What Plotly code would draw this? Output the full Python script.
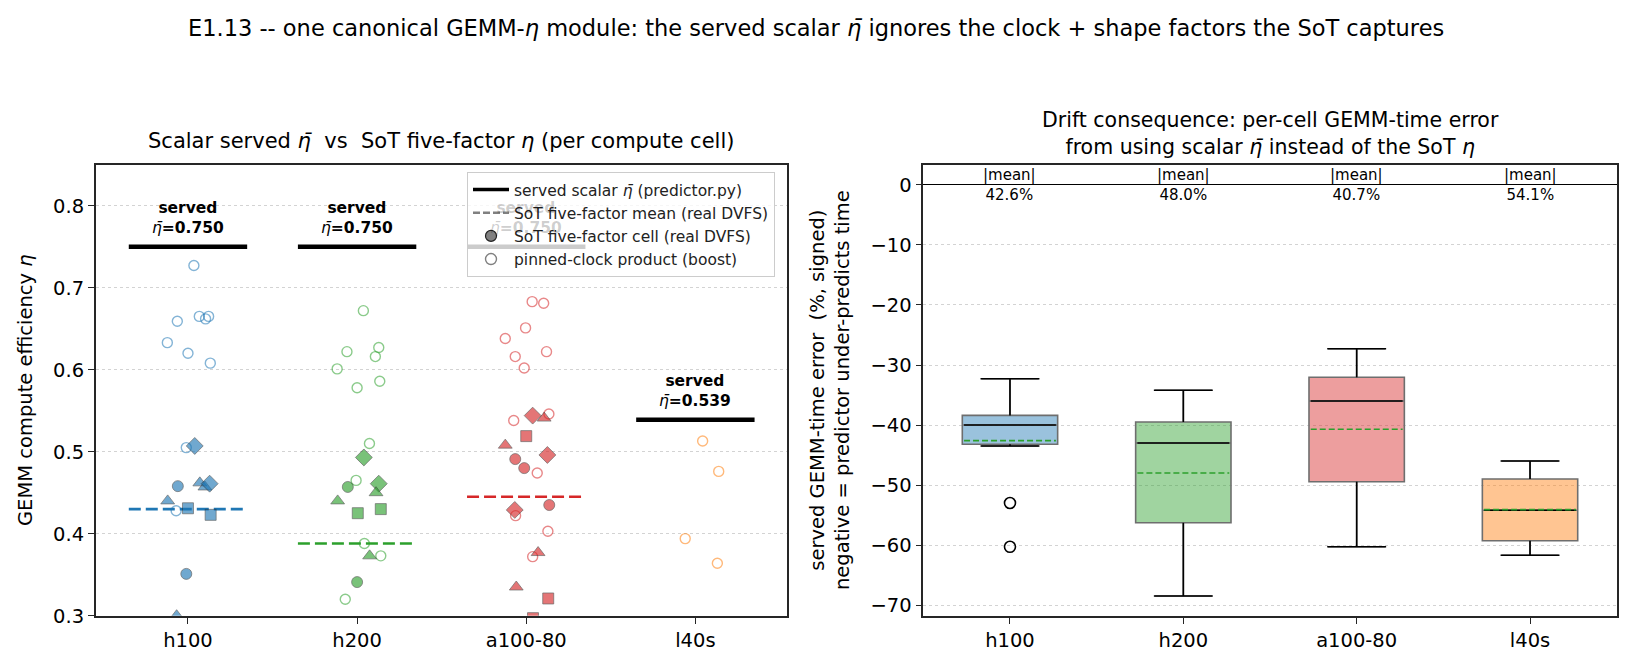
import plotly.graph_objects as go

FONT = "DejaVu Sans"
NB = "\u00a0"

# ---------------- data ----------------
gpus = ["h100", "h200", "a100-80", "l40s"]
served_eta = [0.750, 0.750, 0.750, 0.539]
sot_mean_eta = [0.430, 0.388, 0.445, None]

# pinned-clock product (boost) points: jitter offset, eta
boost_dx = {
    "h100": [0.035, -0.063, 0.067, 0.104, 0.122, -0.122, 0.0, 0.132, -0.01, -0.07],
    "h200": [0.037, -0.06, 0.128, 0.108, -0.118, 0.134, 0.0, 0.073, -0.006, 0.043, 0.14, -0.07],
    "a100-80": [0.035, 0.103, -0.004, -0.124, 0.12, -0.065, -0.012, -0.074, 0.134, 0.065, -0.063, 0.128, 0.038],
    "l40s": [0.043, 0.138, -0.06, 0.13],
}
boost_eta = {
    "h100": [0.727, 0.659, 0.665, 0.662, 0.665, 0.633, 0.620, 0.608, 0.505, 0.428],
    "h200": [0.672, 0.622, 0.627, 0.616, 0.601, 0.586, 0.578, 0.510, 0.465, 0.388, 0.373, 0.320],
    "a100-80": [0.683, 0.681, 0.651, 0.638, 0.622, 0.616, 0.602, 0.538, 0.546, 0.474, 0.422, 0.403, 0.372],
    "l40s": [0.513, 0.476, 0.394, 0.364],
}
# SoT five-factor cells (real DVFS): jitter offset, eta, shape class
cell_dx = {
    "h100": [0.04, -0.06, 0.07, 0.10, 0.128, -0.12, 0.0, 0.134, -0.01, -0.067],
    "h200": [0.04, -0.055, 0.128, 0.112, -0.115, 0.004, 0.14, 0.074, 0.0],
    "a100-80": [0.038, 0.106, 0.0, -0.124, 0.125, -0.065, -0.012, -0.068, 0.136, 0.07, -0.059, 0.13, 0.04],
    "l40s": [],
}
cell_eta = {
    "h100": [0.507, 0.458, 0.462, 0.457, 0.461, 0.440, 0.431, 0.423, 0.351, 0.300],
    "h200": [0.493, 0.457, 0.461, 0.450, 0.440, 0.425, 0.430, 0.373, 0.341],
    "a100-80": [0.544, 0.541, 0.519, 0.508, 0.496, 0.491, 0.480, 0.429, 0.435, 0.377, 0.335, 0.321, 0.297],
    "l40s": [],
}
cell_shape = {
    "h100": ["diamond", "circle", "triangle-up", "triangle-up", "diamond", "triangle-up", "square", "square", "circle", "triangle-up"],
    "h200": ["diamond", "circle", "diamond", "triangle-up", "triangle-up", "square", "square", "triangle-up", "circle"],
    "a100-80": ["diamond", "triangle-up", "square", "triangle-up", "diamond", "circle", "circle", "diamond", "circle", "triangle-up", "triangle-up", "square", "square"],
    "l40s": [],
}

# right panel: signed GEMM-time error (%) box statistics
err_q1 = [-43.2, -56.3, -49.45, -59.3]
err_median = [-40.0, -43.0, -36.0, -54.2]
err_q3 = [-38.4, -39.5, -32.05, -49.0]
err_lowf = [-43.5, -68.5, -60.3, -61.7]
err_upf = [-32.3, -34.2, -27.3, -46.0]
err_mean = [-42.6, -48.0, -40.7, -54.1]
abs_mean_label = ["42.6%", "48.0%", "40.7%", "54.1%"]
outlier_gpu_idx = [0, 0]
outlier_val = [-53.0, -60.3]

# ---------------- style ----------------
base = {"h100": (31, 119, 180), "h200": (44, 160, 44), "a100-80": (214, 39, 40), "l40s": (255, 127, 14)}
def rgba(c, a):
    return f"rgba({c[0]},{c[1]},{c[2]},{a})"

sym_size = {"circle": 11, "square": 11, "triangle-up": 12, "diamond": 13}

fig = go.Figure()

HALF = 0.35
# ---------------- left panel ----------------
for i, g in enumerate(gpus):
    c = base[g]
    fig.add_trace(go.Scatter(x=[i - HALF, i + HALF], y=[served_eta[i]] * 2, mode="lines",
                             line=dict(color="black", width=4.5), showlegend=False,
                             xaxis="x", yaxis="y", hoverinfo="skip"))
    if sot_mean_eta[i] is not None:
        fig.add_trace(go.Scatter(x=[i - HALF, i + HALF], y=[sot_mean_eta[i]] * 2, mode="lines",
                                 line=dict(color=rgba(c, 1), width=2.6, dash="12px,5px"), showlegend=False,
                                 xaxis="x", yaxis="y"))
    fig.add_trace(go.Scatter(x=[i + d for d in boost_dx[g]], y=boost_eta[g], mode="markers",
                             marker=dict(symbol="circle-open", size=10, color=rgba(c, 0.55),
                                         line=dict(width=1.4, color=rgba(c, 0.55))),
                             showlegend=False, xaxis="x", yaxis="y"))
    if cell_eta[g]:
        fig.add_trace(go.Scatter(x=[i + d for d in cell_dx[g]], y=cell_eta[g], mode="markers",
                                 marker=dict(symbol=cell_shape[g], size=[sym_size[s] for s in cell_shape[g]],
                                             color=rgba(c, 0.9), line=dict(width=0.8, color="rgba(40,40,40,0.85)")),
                                 showlegend=False, xaxis="x", yaxis="y"))

# legend entries
fig.add_trace(go.Scatter(x=[None], y=[None], mode="lines", line=dict(color="black", width=3.5),
                         name="served scalar <i>η̄</i> (predictor.py)", legendgroup="a", xaxis="x", yaxis="y"))
fig.add_trace(go.Scatter(x=[None], y=[None], mode="lines", line=dict(color="gray", width=2.4, dash="7px,3px"),
                         name="SoT five-factor mean (real DVFS)", legendgroup="b", xaxis="x", yaxis="y"))
fig.add_trace(go.Scatter(x=[None], y=[None], mode="markers",
                         marker=dict(symbol="circle", size=11, color="gray", line=dict(width=1.2, color="#222")),
                         name="SoT five-factor cell (real DVFS)", legendgroup="c", xaxis="x", yaxis="y"))
fig.add_trace(go.Scatter(x=[None], y=[None], mode="markers",
                         marker=dict(symbol="circle-open", size=11, color="gray", line=dict(width=1.4, color="gray")),
                         name="pinned-clock product (boost)", legendgroup="d", xaxis="x", yaxis="y"))

annotations = []
for i, g in enumerate(gpus):
    # the a100-80 label sits behind the semi-opaque legend box
    col = "rgba(0,0,0,0.2)" if g == "a100-80" else "black"
    annotations.append(dict(x=i, y=served_eta[i], xref="x", yref="y", xanchor="center", yanchor="bottom", yshift=8,
                            text=f"<b>served</b><br><i>η̄</i><b>={served_eta[i]:.3f}</b>", showarrow=False,
                            font=dict(family=FONT, size=15.5, color=col)))

# ---------------- right panel ----------------
BW = 0.55
CAP = 0.17
for i, g in enumerate(gpus):
    c = base[g]
    fig.add_trace(go.Box(x=[i], q1=[err_q1[i]], median=[err_median[i]], q3=[err_q3[i]],
                         lowerfence=[err_lowf[i]], upperfence=[err_upf[i]], width=BW,
                         fillcolor=rgba(c, 0.45), line=dict(color="rgba(110,110,110,1)", width=1.6),
                         whiskerwidth=0.6, boxpoints=False, showlegend=False, xaxis="x2", yaxis="y2"))
    wx = [i, i, None, i, i, None, i - CAP, i + CAP, None, i - CAP, i + CAP, None]
    wy = [err_q3[i], err_upf[i], None, err_q1[i], err_lowf[i], None,
          err_upf[i], err_upf[i], None, err_lowf[i], err_lowf[i], None]
    fig.add_trace(go.Scatter(x=wx, y=wy, mode="lines", line=dict(color="black", width=1.6),
                             showlegend=False, xaxis="x2", yaxis="y2", hoverinfo="skip"))
    fig.add_trace(go.Scatter(x=[i - BW / 2 + 0.01, i + BW / 2 - 0.01], y=[err_median[i]] * 2, mode="lines",
                             line=dict(color="black", width=1.6), showlegend=False, xaxis="x2", yaxis="y2"))
    fig.add_trace(go.Scatter(x=[i - BW / 2 + 0.01, i + BW / 2 - 0.01], y=[err_mean[i]] * 2, mode="lines",
                             line=dict(color="#2ca02c", width=1.6, dash="6px,3px"), showlegend=False,
                             xaxis="x2", yaxis="y2"))
    annotations.append(dict(x=i, y=0, xref="x2", yref="y2", xanchor="center", yanchor="middle",
                            text=f"|mean|<br>{abs_mean_label[i]}",
                            showarrow=False, font=dict(family=FONT, size=15, color="black")))

fig.add_trace(go.Scatter(x=outlier_gpu_idx, y=outlier_val, mode="markers",
                         marker=dict(symbol="circle-open", size=11, color="black", line=dict(width=1.6, color="black")),
                         showlegend=False, xaxis="x2", yaxis="y2"))

H = 666.0
W = 1632.0
def py(px):
    return 1 - px / H

annotations += [
    dict(x=0.5, y=py(28), xref="paper", yref="paper", xanchor="center", yanchor="middle", showarrow=False,
         text="E1.13 -- one canonical GEMM-<i>η</i> module: the served scalar <i>η̄</i> ignores the clock + shape factors the SoT captures",
         font=dict(family=FONT, size=22.5, color="black")),
    dict(x=441 / W, y=py(141), xref="paper", yref="paper", xanchor="center", yanchor="middle", showarrow=False,
         text=f"Scalar served <i>η̄</i> {NB}vs{NB} SoT five-factor <i>η</i> (per compute cell)",
         font=dict(family=FONT, size=21, color="black")),
    dict(x=1270 / W, y=py(133), xref="paper", yref="paper", xanchor="center", yanchor="middle", showarrow=False,
         text="Drift consequence: per-cell GEMM-time error<br>from using scalar <i>η̄</i> instead of the SoT <i>η</i>",
         font=dict(family=FONT, size=20.5, color="black")),
    dict(x=25 / W, y=py(390), xref="paper", yref="paper", xanchor="center", yanchor="middle", showarrow=False,
         textangle=-90, text="GEMM compute efficiency <i>η</i>", font=dict(family=FONT, size=19.5, color="black")),
    dict(x=830 / W, y=py(390), xref="paper", yref="paper", xanchor="center", yanchor="middle", showarrow=False,
         textangle=-90, text=f"served GEMM-time error {NB}(%, signed)<br>negative = predictor under-predicts time",
         font=dict(family=FONT, size=19.5, color="black")),
]

axis_common = dict(showline=True, mirror=True, linecolor="#262626", linewidth=1.6, ticks="outside",
                   ticklen=6, tickwidth=1.3, tickcolor="#262626", automargin=False,
                   tickfont=dict(family=FONT, size=19.5, color="black"))

fig.update_layout(
    width=1632, height=666, margin=dict(l=0, r=0, t=0, b=0, pad=0, autoexpand=False),
    paper_bgcolor="white", plot_bgcolor="white",
    font=dict(family=FONT, color="black"),
    xaxis=dict(domain=[95.8 / W, 786.7 / W], range=[-0.545, 3.54], tickvals=[0, 1, 2, 3], ticktext=gpus,
               showgrid=False, zeroline=False, anchor="y", **axis_common),
    yaxis=dict(domain=[py(615.7), py(164.7)], range=[0.3, 0.85], tickvals=[0.3, 0.4, 0.5, 0.6, 0.7, 0.8],
               tickformat=".1f", showgrid=True, gridcolor="#d3d3d3", griddash="dot", gridwidth=1,
               zeroline=False, anchor="x", **axis_common),
    xaxis2=dict(domain=[923.3 / W, 1616.7 / W], range=[-0.5, 3.5], tickvals=[0, 1, 2, 3], ticktext=gpus,
                showgrid=False, zeroline=False, anchor="y2", **axis_common),
    yaxis2=dict(domain=[py(616), py(165)], range=[-71.83, 3.33], tickvals=[-70, -60, -50, -40, -30, -20, -10, 0],
                showgrid=True, gridcolor="#d3d3d3", griddash="dot", gridwidth=1, anchor="x2",
                zeroline=True, zerolinecolor="black", zerolinewidth=1.3, **axis_common),
    legend=dict(x=467 / W, y=py(172), xanchor="left", yanchor="top", bgcolor="rgba(255,255,255,0.8)",
                bordercolor="#cccccc", borderwidth=1, font=dict(family=FONT, size=15.5, color="#222"),
                tracegroupgap=0, itemwidth=36),
    annotations=annotations,
)

fig.write_html("out.html")
